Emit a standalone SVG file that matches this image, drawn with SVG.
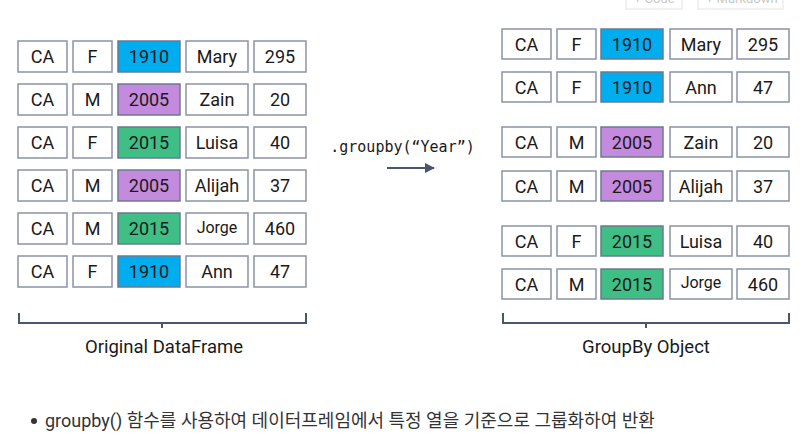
<svg xmlns="http://www.w3.org/2000/svg" width="810" height="437" viewBox="0 0 810 437">
<style>
.c{fill:#fff;stroke:#8a93a5;stroke-width:1.5}
.b{fill:#00adee;stroke:#6b7a90;stroke-width:1.5}
.p{fill:#c48ade;stroke:#6b7a90;stroke-width:1.5}
.g{fill:#3fbe86;stroke:#6b7a90;stroke-width:1.5}
text{font-family:Roboto,"Liberation Sans",sans-serif;fill:#1a1a1a}
.t{font-size:18px;text-anchor:middle;dominant-baseline:central}
.j{font-size:16px}
.lbl{font-size:18.5px;text-anchor:middle}
.br{fill:none;stroke:#4a5670;stroke-width:2}
.btn{fill:#fff;stroke:#e3e3e3;stroke-width:1}
</style>
<defs>
<marker id="ah" viewBox="0 0 10 10" refX="9" refY="5" markerWidth="5" markerHeight="5" orient="auto">
<path d="M0,0 L10,5 L0,10 z" fill="#4a5670"/>
</marker>
</defs>
<rect width="810" height="437" fill="#fff"/>
<g id="toolbar">
<rect class="btn" x="626" y="-20" width="56" height="29"/>
<rect class="btn" x="698" y="-20" width="85" height="29"/>
<text x="634" y="3" font-size="13" style="fill:#c8c8c8">+ Code</text>
<text x="706" y="3" font-size="13" style="fill:#c8c8c8">+ Markdown</text>
</g>
<g id="original">
<g id="l1" transform="translate(0,41)"><rect class="c" x="18" y="0" width="49" height="31"/><text class="t" x="42.5" y="15.5">CA</text><rect class="c" x="73" y="0" width="39" height="31"/><text class="t" x="92.5" y="15.5">F</text><rect class="b" x="118" y="0" width="62" height="31"/><text class="t" x="149" y="15.5">1910</text><rect class="c" x="186" y="0" width="62" height="31"/><text class="t" x="217" y="15.5">Mary</text><rect class="c" x="254" y="0" width="52" height="31"/><text class="t" x="280" y="15.5">295</text></g>
<g id="l2" transform="translate(0,84)"><rect class="c" x="18" y="0" width="49" height="31"/><text class="t" x="42.5" y="15.5">CA</text><rect class="c" x="73" y="0" width="39" height="31"/><text class="t" x="92.5" y="15.5">M</text><rect class="p" x="118" y="0" width="62" height="31"/><text class="t" x="149" y="15.5">2005</text><rect class="c" x="186" y="0" width="62" height="31"/><text class="t" x="217" y="15.5">Zain</text><rect class="c" x="254" y="0" width="52" height="31"/><text class="t" x="280" y="15.5">20</text></g>
<g id="l3" transform="translate(0,127)"><rect class="c" x="18" y="0" width="49" height="31"/><text class="t" x="42.5" y="15.5">CA</text><rect class="c" x="73" y="0" width="39" height="31"/><text class="t" x="92.5" y="15.5">F</text><rect class="g" x="118" y="0" width="62" height="31"/><text class="t" x="149" y="15.5">2015</text><rect class="c" x="186" y="0" width="62" height="31"/><text class="t" x="217" y="15.5">Luisa</text><rect class="c" x="254" y="0" width="52" height="31"/><text class="t" x="280" y="15.5">40</text></g>
<g id="l4" transform="translate(0,170)"><rect class="c" x="18" y="0" width="49" height="31"/><text class="t" x="42.5" y="15.5">CA</text><rect class="c" x="73" y="0" width="39" height="31"/><text class="t" x="92.5" y="15.5">M</text><rect class="p" x="118" y="0" width="62" height="31"/><text class="t" x="149" y="15.5">2005</text><rect class="c" x="186" y="0" width="62" height="31"/><text class="t" x="217" y="15.5">Alijah</text><rect class="c" x="254" y="0" width="52" height="31"/><text class="t" x="280" y="15.5">37</text></g>
<g id="l5" transform="translate(0,213)"><rect class="c" x="18" y="0" width="49" height="31"/><text class="t" x="42.5" y="15.5">CA</text><rect class="c" x="73" y="0" width="39" height="31"/><text class="t" x="92.5" y="15.5">M</text><rect class="g" x="118" y="0" width="62" height="31"/><text class="t" x="149" y="15.5">2015</text><rect class="c" x="186" y="0" width="62" height="31"/><text class="t j" x="217" y="14">Jorge</text><rect class="c" x="254" y="0" width="52" height="31"/><text class="t" x="280" y="15.5">460</text></g>
<g id="l6" transform="translate(0,256)"><rect class="c" x="18" y="0" width="49" height="31"/><text class="t" x="42.5" y="15.5">CA</text><rect class="c" x="73" y="0" width="39" height="31"/><text class="t" x="92.5" y="15.5">F</text><rect class="b" x="118" y="0" width="62" height="31"/><text class="t" x="149" y="15.5">1910</text><rect class="c" x="186" y="0" width="62" height="31"/><text class="t" x="217" y="15.5">Ann</text><rect class="c" x="254" y="0" width="52" height="31"/><text class="t" x="280" y="15.5">47</text></g>
</g>
<g id="grouped">
<g id="r1" transform="translate(0,29)"><rect class="c" x="502" y="0" width="49" height="30"/><text class="t" x="526.5" y="15">CA</text><rect class="c" x="557" y="0" width="39" height="30"/><text class="t" x="576.5" y="15">F</text><rect class="b" x="601" y="0" width="62" height="30"/><text class="t" x="632" y="15">1910</text><rect class="c" x="670" y="0" width="62" height="30"/><text class="t" x="701" y="15">Mary</text><rect class="c" x="737" y="0" width="52" height="30"/><text class="t" x="763" y="15">295</text></g>
<g id="r2" transform="translate(0,72)"><rect class="c" x="502" y="0" width="49" height="30"/><text class="t" x="526.5" y="15">CA</text><rect class="c" x="557" y="0" width="39" height="30"/><text class="t" x="576.5" y="15">F</text><rect class="b" x="601" y="0" width="62" height="30"/><text class="t" x="632" y="15">1910</text><rect class="c" x="670" y="0" width="62" height="30"/><text class="t" x="701" y="15">Ann</text><rect class="c" x="737" y="0" width="52" height="30"/><text class="t" x="763" y="15">47</text></g>
<g id="r3" transform="translate(0,127)"><rect class="c" x="502" y="0" width="49" height="30"/><text class="t" x="526.5" y="15">CA</text><rect class="c" x="557" y="0" width="39" height="30"/><text class="t" x="576.5" y="15">M</text><rect class="p" x="601" y="0" width="62" height="30"/><text class="t" x="632" y="15">2005</text><rect class="c" x="670" y="0" width="62" height="30"/><text class="t" x="701" y="15">Zain</text><rect class="c" x="737" y="0" width="52" height="30"/><text class="t" x="763" y="15">20</text></g>
<g id="r4" transform="translate(0,171)"><rect class="c" x="502" y="0" width="49" height="30"/><text class="t" x="526.5" y="15">CA</text><rect class="c" x="557" y="0" width="39" height="30"/><text class="t" x="576.5" y="15">M</text><rect class="p" x="601" y="0" width="62" height="30"/><text class="t" x="632" y="15">2005</text><rect class="c" x="670" y="0" width="62" height="30"/><text class="t" x="701" y="15">Alijah</text><rect class="c" x="737" y="0" width="52" height="30"/><text class="t" x="763" y="15">37</text></g>
<g id="r5" transform="translate(0,226)"><rect class="c" x="502" y="0" width="49" height="30"/><text class="t" x="526.5" y="15">CA</text><rect class="c" x="557" y="0" width="39" height="30"/><text class="t" x="576.5" y="15">F</text><rect class="g" x="601" y="0" width="62" height="30"/><text class="t" x="632" y="15">2015</text><rect class="c" x="670" y="0" width="62" height="30"/><text class="t" x="701" y="15">Luisa</text><rect class="c" x="737" y="0" width="52" height="30"/><text class="t" x="763" y="15">40</text></g>
<g id="r6" transform="translate(0,269)"><rect class="c" x="502" y="0" width="49" height="30"/><text class="t" x="526.5" y="15">CA</text><rect class="c" x="557" y="0" width="39" height="30"/><text class="t" x="576.5" y="15">M</text><rect class="g" x="601" y="0" width="62" height="30"/><text class="t" x="632" y="15">2015</text><rect class="c" x="670" y="0" width="62" height="30"/><text class="t j" x="701" y="13.5">Jorge</text><rect class="c" x="737" y="0" width="52" height="30"/><text class="t" x="763" y="15">460</text></g>
</g>
<g id="connectors">
<line x1="387" y1="168" x2="434" y2="168" stroke="#4a5670" stroke-width="2" marker-end="url(#ah)"/>
<path class="br" d="M19,313 V323 H306 V313 M162,323 V328"/>
<path class="br" d="M503,313 V323 H789 V313 M646,323 V328"/>
</g>
<g id="labels">
<text x="402.5" y="152" font-size="15" text-anchor="middle" style="font-family:'DejaVu Sans Mono','Liberation Mono',monospace">.groupby(“Year”)</text>
<text class="lbl" x="164" y="353">Original DataFrame</text>
<text class="lbl" x="646" y="353">GroupBy Object</text>
</g>
<g id="note">
<circle cx="34" cy="421" r="3" fill="#333"/>
<text x="45" y="427" font-size="18" style="fill:#333;font-family:Roboto,'Noto Sans CJK KR',sans-serif">groupby() 함수를 사용하여 데이터프레임에서 특정 열을 기준으로 그룹화하여 반환</text>
</g>
</svg>
